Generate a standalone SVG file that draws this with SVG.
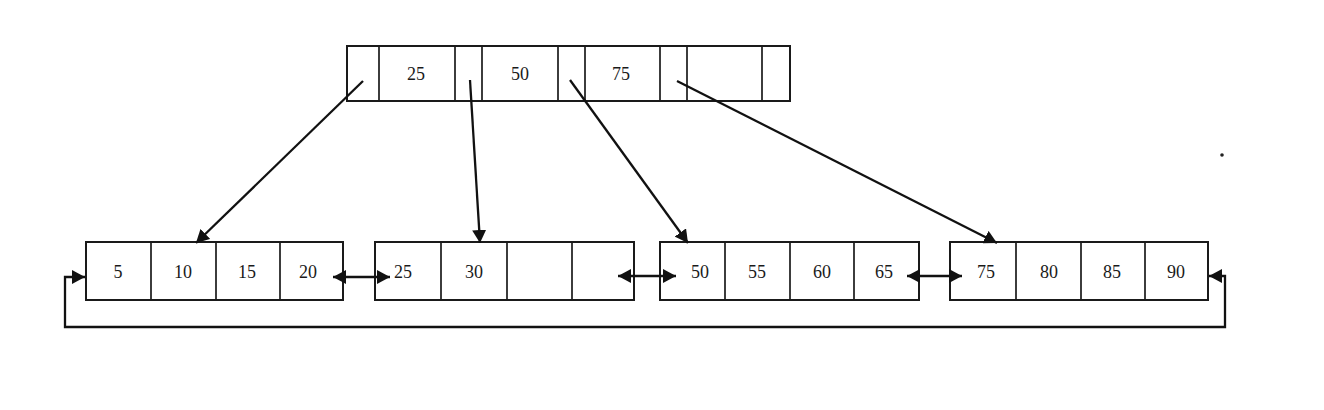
<svg xmlns="http://www.w3.org/2000/svg" width="1324" height="410" viewBox="0 0 1324 410">
<defs>
<style>
.box{fill:#fff;stroke:#1a1a1a;stroke-width:2}
.div{stroke:#1a1a1a;stroke-width:1.7}
.t{font-family:"Liberation Serif","Times New Roman",serif;font-size:18px;fill:#1a1a1a;text-anchor:middle}
.c{fill:none;stroke:#111;stroke-width:2.3}
</style>
<marker id="ah" markerUnits="userSpaceOnUse" markerWidth="16" markerHeight="14" refX="13" refY="7" orient="auto-start-reverse">
<path d="M0,0 L13,7 L0,14 Z" fill="#111"/>
</marker>
</defs>
<rect width="1324" height="410" fill="#fff"/>

<g id="root">
<rect class="box" x="347" y="46" width="443" height="55"/>
<line class="div" x1="379" y1="46" x2="379" y2="101"/>
<line class="div" x1="455" y1="46" x2="455" y2="101"/>
<line class="div" x1="482" y1="46" x2="482" y2="101"/>
<line class="div" x1="558" y1="46" x2="558" y2="101"/>
<line class="div" x1="585" y1="46" x2="585" y2="101"/>
<line class="div" x1="660" y1="46" x2="660" y2="101"/>
<line class="div" x1="687" y1="46" x2="687" y2="101"/>
<line class="div" x1="762" y1="46" x2="762" y2="101"/>
<text class="t" x="416" y="80">25</text>
<text class="t" x="520" y="80">50</text>
<text class="t" x="621" y="80">75</text>
</g>

<g id="leaf1">
<rect class="box" x="86" y="242" width="257" height="58"/>
<line class="div" x1="151" y1="242" x2="151" y2="300"/>
<line class="div" x1="216" y1="242" x2="216" y2="300"/>
<line class="div" x1="280" y1="242" x2="280" y2="300"/>
<text class="t" x="118" y="278">5</text>
<text class="t" x="183" y="278">10</text>
<text class="t" x="247" y="278">15</text>
<text class="t" x="308" y="278">20</text>
</g>

<g id="leaf2">
<rect class="box" x="375" y="242" width="259" height="58"/>
<line class="div" x1="441" y1="242" x2="441" y2="300"/>
<line class="div" x1="507" y1="242" x2="507" y2="300"/>
<line class="div" x1="572" y1="242" x2="572" y2="300"/>
<text class="t" x="403" y="278">25</text>
<text class="t" x="474" y="278">30</text>
</g>

<g id="leaf3">
<rect class="box" x="660" y="242" width="259" height="58"/>
<line class="div" x1="725" y1="242" x2="725" y2="300"/>
<line class="div" x1="790" y1="242" x2="790" y2="300"/>
<line class="div" x1="854" y1="242" x2="854" y2="300"/>
<text class="t" x="700" y="278">50</text>
<text class="t" x="757" y="278">55</text>
<text class="t" x="822" y="278">60</text>
<text class="t" x="884" y="278">65</text>
</g>

<g id="leaf4">
<rect class="box" x="950" y="242" width="258" height="58"/>
<line class="div" x1="1016" y1="242" x2="1016" y2="300"/>
<line class="div" x1="1081" y1="242" x2="1081" y2="300"/>
<line class="div" x1="1145" y1="242" x2="1145" y2="300"/>
<text class="t" x="986" y="278">75</text>
<text class="t" x="1049" y="278">80</text>
<text class="t" x="1112" y="278">85</text>
<text class="t" x="1176" y="278">90</text>
</g>

<g id="connectors">
<line class="c" x1="363" y1="81" x2="196" y2="243" marker-end="url(#ah)"/>
<line class="c" x1="470" y1="80" x2="480" y2="243" marker-end="url(#ah)"/>
<line class="c" x1="570" y1="80" x2="688" y2="243" marker-end="url(#ah)"/>
<line class="c" x1="677" y1="81" x2="997" y2="243" marker-end="url(#ah)"/>
<line class="c" x1="333" y1="277" x2="390" y2="277" marker-start="url(#ah)" marker-end="url(#ah)"/>
<line class="c" x1="618" y1="276" x2="676" y2="276" marker-start="url(#ah)" marker-end="url(#ah)"/>
<line class="c" x1="907" y1="276" x2="962" y2="276" marker-start="url(#ah)" marker-end="url(#ah)"/>
<path class="c" d="M1209,276 H1225 V327 H65 V277 H85" marker-start="url(#ah)" marker-end="url(#ah)"/>
</g>
<circle cx="1222" cy="155" r="1.8" fill="#222"/>
</svg>
